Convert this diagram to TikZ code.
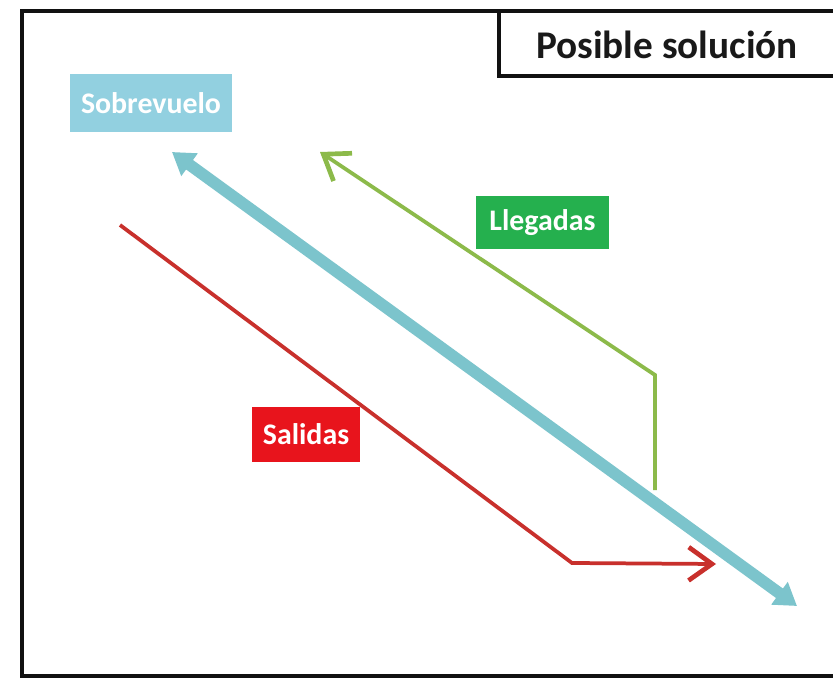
\documentclass[tikz,border=0pt]{standalone}
\usepackage{fontspec}
\setmainfont{Carlito}
\usetikzlibrary{arrows.meta}
\definecolor{frameblack}{HTML}{111111}
\definecolor{flyblue}{HTML}{7CC4CC}
\definecolor{flylabel}{HTML}{92D0E0}
\definecolor{arrgreen}{HTML}{8CBA4A}
\definecolor{arrlabel}{HTML}{25B04E}
\definecolor{depred}{HTML}{C8302C}
\definecolor{deplabel}{HTML}{E8141C}
\tikzset{
  tag/.style={inner sep=0pt, minimum height=#1, text=white, font=\bfseries\fontsize{25.5}{28}\selectfont},
  frameline/.style={draw=frameblack, line width=4.2pt},
  thin route/.style={line width=3.2pt, line join=miter, -{Straight Barb[length=7mm, width=10mm, line width=4pt]}},
  fly tip/.tip={Triangle[length=6.5mm, width=8mm]},
}
\begin{document}
\begin{tikzpicture}[x=0.03cm, y=-0.03cm]
  \useasboundingbox (0,0) rectangle (833,680);
  \fill[white] (0,0) rectangle (833,680);
  % outer frame, its right side runs past the page edge
  \draw[frameline] (22,11) rectangle (850,676);
  % title tab
  \draw[frameline] (499,11) -- (499,76) -- (850,76);
  \node[font=\bfseries\fontsize{33.5}{36}\selectfont, text=black!90] (title) at (667,45) {Posible solución};

  % labels
  \node[tag=1.74cm, fill=flylabel, minimum width=4.86cm] (sob) at (151,103) {Sobrevuelo};
  \node[tag=1.59cm, fill=arrlabel, minimum width=3.99cm] (lle) at (542.5,222.5) {Llegadas};
  \node[tag=1.65cm, fill=deplabel, minimum width=3.24cm] (sal) at (306,434.5) {Salidas};

  % route points
  \coordinate (b1) at (172,152);
  \coordinate (b2) at (797,606);
  \coordinate (g0) at (655,490);
  \coordinate (g1) at (655,375);
  \coordinate (g2) at (320,152);
  \coordinate (r0) at (120,225);
  \coordinate (r1) at (572,563);
  \coordinate (r2) at (716,564);

  % overflight corridor
  \draw[flyblue, line width=10pt, {fly tip}-{fly tip}] (b1) -- (b2);
  % arrivals
  \draw[arrgreen, thin route] (g0) -- (g1) -- (g2);
  % departures
  \draw[depred, thin route] (r0) -- (r1) -- (r2);
\end{tikzpicture}
\end{document}
